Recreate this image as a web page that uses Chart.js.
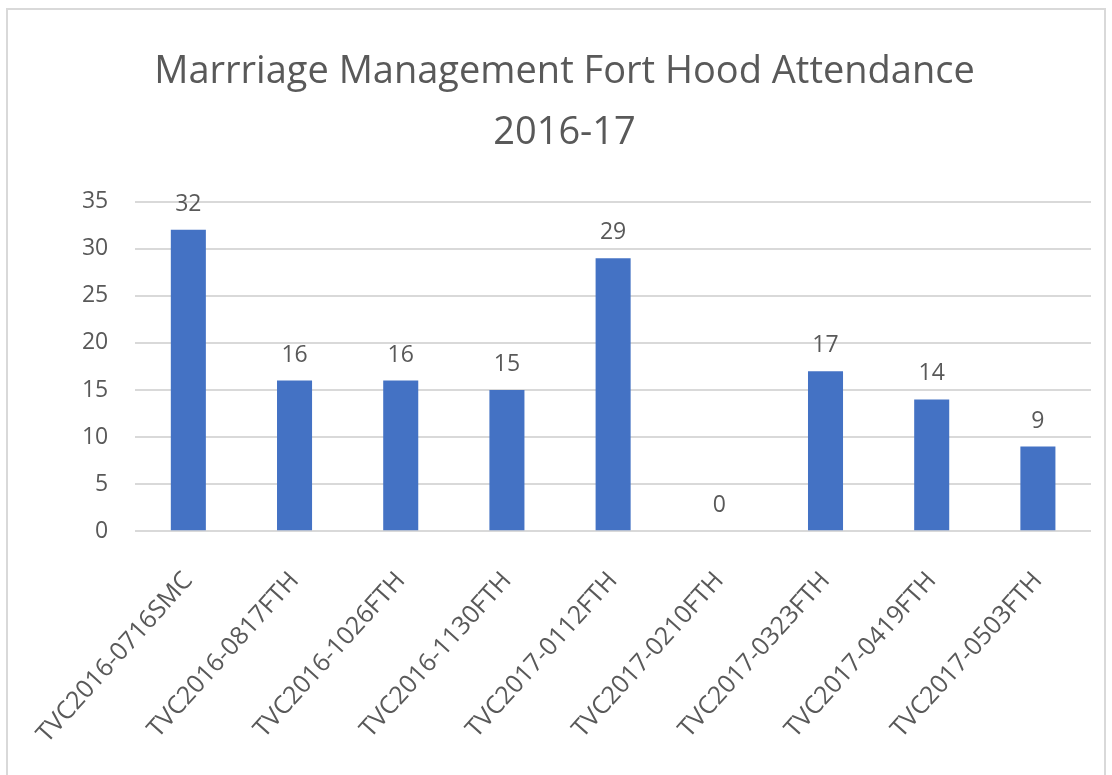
<!DOCTYPE html>
<html>
<head>
<meta charset="utf-8">
<script src="https://cdn.jsdelivr.net/npm/chart.js@4/dist/chart.umd.min.js"></script>
<style>
    body { margin: 0; background: #fff; }
    #marco {
        position: absolute;
        left: 6px; top: 8px;
        width: 1096px; height: 770px;
        border: 2px solid #d9d9d9;
        background: #fff;
    }
</style>
</head>
<body>
<div id="marco"><canvas id="grafico-asistencia"></canvas></div>
<script>
const clases = [
    'TVC2016-0716SMC', 'TVC2016-0817FTH', 'TVC2016-1026FTH', 'TVC2016-1130FTH',
    'TVC2017-0112FTH', 'TVC2017-0210FTH', 'TVC2017-0323FTH', 'TVC2017-0419FTH',
    'TVC2017-0503FTH'
];
const asistencia = [32, 16, 16, 15, 29, 0, 17, 14, 9];
const marcasEjeY = [0, 5, 10, 15, 20, 25, 30, 35];

const grisTexto = '#595959';
const fuente = "'Open Sans', 'Noto Sans', sans-serif";

// etiquetas con el valor encima de cada barra
const etiquetasValor = {
    id: 'etiquetasValor',
    afterDatasetsDraw(chart) {
        const ctx = chart.ctx;
        const meta = chart.getDatasetMeta(0);
        ctx.save();
        ctx.fillStyle = grisTexto;
        ctx.font = '23px ' + fuente;
        ctx.textAlign = 'center';
        ctx.textBaseline = 'bottom';
        meta.data.forEach((barra, i) => {
            ctx.fillText(asistencia[i], barra.x, barra.y - 14);
        });
        ctx.restore();
    }
};

const canvas = document.querySelector('#grafico-asistencia');
canvas.width = 1096;
canvas.height = 770;

new Chart(canvas, {
    type: 'bar',
    data: {
        labels: clases,
        datasets: [{
            label: 'Asistencia',
            data: asistencia,
            backgroundColor: '#4472c4',
            borderWidth: 0,
            barPercentage: 0.33,
            categoryPercentage: 1
        }]
    },
    options: {
        responsive: false,
        animation: false,
        layout: {
            padding: { left: 30, right: 13, top: 22, bottom: 4 }
        },
        scales: {
            x: {
                grid: { display: false },
                border: { display: false },
                ticks: {
                    color: grisTexto,
                    font: { family: fuente, size: 25 },
                    minRotation: 48,
                    maxRotation: 48,
                    padding: 27,
                    autoSkip: false
                }
            },
            y: {
                min: 0,
                max: 35,
                afterBuildTicks(eje) {
                    eje.ticks = marcasEjeY.map(v => ({ value: v }));
                },
                afterFit(eje) {
                    eje.width += 15;
                },
                grid: { color: '#d9d9d9', lineWidth: 2, drawTicks: false },
                border: { display: false },
                ticks: {
                    color: grisTexto,
                    font: { family: fuente, size: 23 },
                    padding: 27
                }
            }
        },
        plugins: {
            legend: { display: false },
            tooltip: { enabled: false },
            title: {
                display: true,
                text: ['Marrriage Management Fort Hood Attendance', '2016-17'],
                color: grisTexto,
                font: { family: fuente, size: 38, weight: 'normal', lineHeight: 1.6 },
                padding: { top: 10, bottom: 38 }
            }
        }
    },
    plugins: [etiquetasValor]
});
</script>
</body>
</html>
